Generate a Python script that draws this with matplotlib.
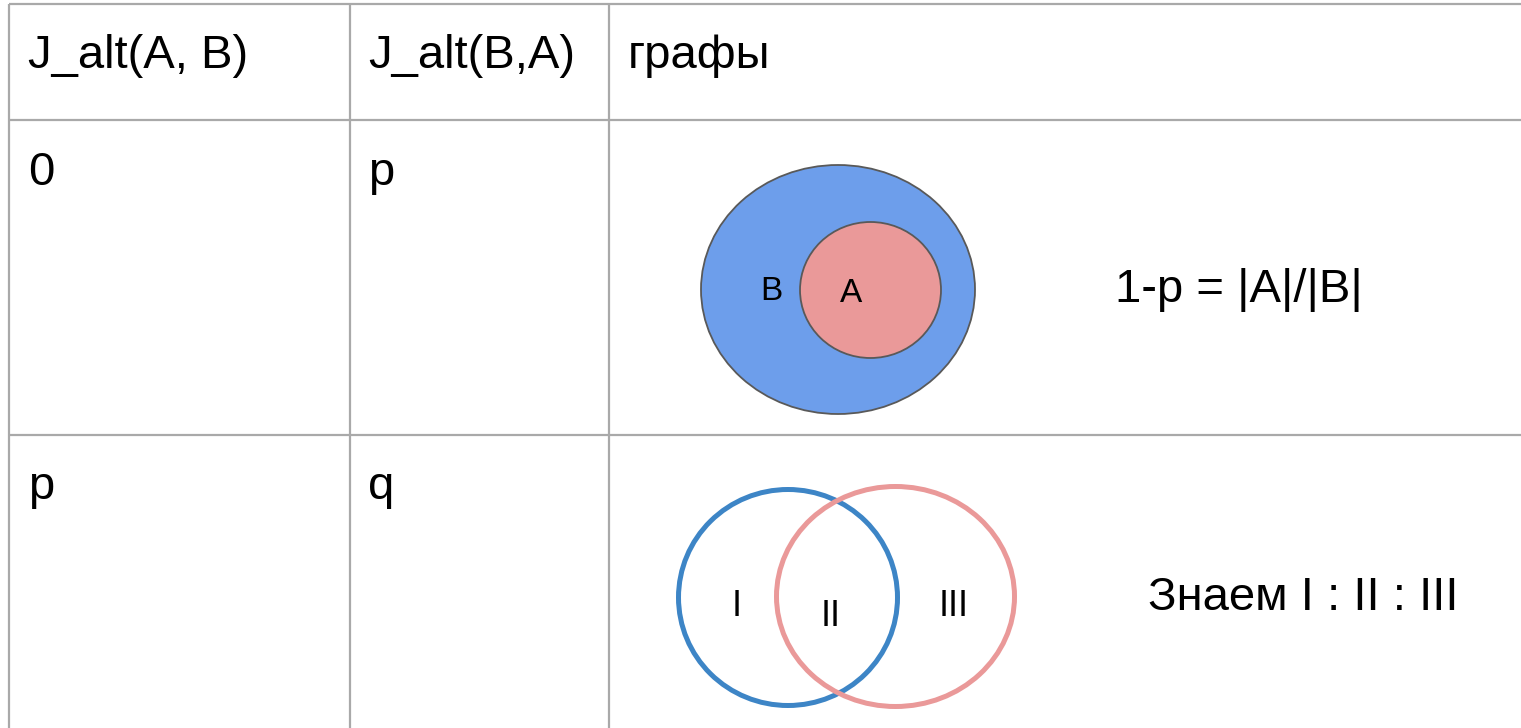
import matplotlib
matplotlib.use("Agg")
import matplotlib.pyplot as plt
from matplotlib.patches import Ellipse

# table content
header = ["J_alt(A, B)", "J_alt(B,A)", "графы"]
rows = [["0", "p"], ["p", "q"]]
notes = ["1-p = |A|/|B|", "Знаем I : II : III"]
nested_labels = ["B", "A"]
venn_labels = ["I", "II", "III"]

W, H = 1521, 728
plt.rcParams['font.family'] = ['Liberation Sans', 'DejaVu Sans']

fig = plt.figure(figsize=(W / 100, H / 100), dpi=100)
ax = fig.add_axes([0, 0, 1, 1])
ax.set_xlim(0, W)
ax.set_ylim(H, 0)
ax.axis("off")

# grid lines
grid_c = "#a9a9a9"
col_x = [8.5, 349.5, 608.5]
row_y = [4, 120, 435]
for y in row_y:
    ax.plot([col_x[0], W], [y, y], color=grid_c, lw=1.6, solid_capstyle="butt")
for x in col_x:
    ax.plot([x, x], [row_y[0], H], color=grid_c, lw=1.6, solid_capstyle="butt")

fs = 34
text_x = [28, 368, 628]
baselines = [68, 185, 499]
for x, s in zip(text_x, header):
    ax.text(x, baselines[0], s, fontsize=fs, va="baseline", ha="left")
for r, row in enumerate(rows):
    for x, s in zip(text_x, row):
        ax.text(x, baselines[r + 1], s, fontsize=fs, va="baseline", ha="left")

# nested sets
ax.add_patch(Ellipse((838, 289.5), 274, 249, facecolor="#6d9eeb",
                     edgecolor="#595959", lw=1.3))
ax.add_patch(Ellipse((870.5, 290), 141, 136, facecolor="#ea9999",
                     edgecolor="#595959", lw=1.3))
ax.text(771, 292, nested_labels[0], fontsize=24, ha="center", va="center")
ax.text(851, 293, nested_labels[1], fontsize=24, ha="center", va="center")
ax.text(1115, 302, notes[0], fontsize=fs, va="baseline", ha="left")

# overlapping sets
ax.add_patch(Ellipse((788, 597.5), 219, 216, facecolor="none",
                     edgecolor="#3d85c6", lw=3.6))
ax.add_patch(Ellipse((895.5, 596.5), 238, 220, facecolor="none",
                     edgecolor="#ea9999", lw=3.6))
for (x, y), s in zip([(737, 607), (831, 616), (954, 607)], venn_labels):
    ax.text(x, y, s, fontsize=26, ha="center", va="center")
ax.text(1148, 610, notes[1], fontsize=fs, va="baseline", ha="left")

fig.savefig("out.png", dpi=100, facecolor="white")
